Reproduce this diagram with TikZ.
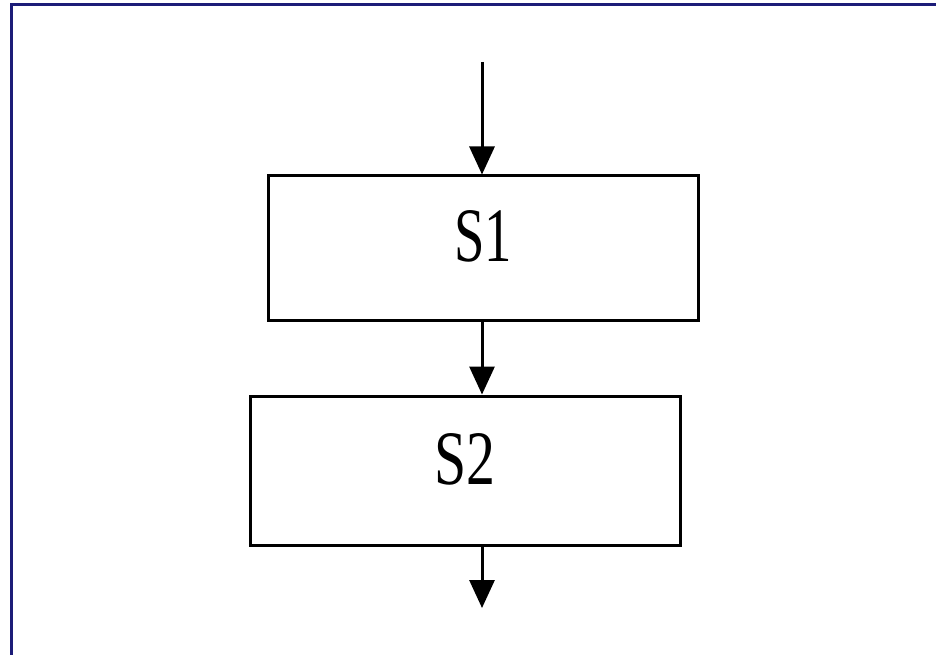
\documentclass[tikz,border=0pt]{standalone}
\usepackage{fontspec}
\setmainfont{Liberation Serif}
\usetikzlibrary{arrows.meta}
\definecolor{framenavy}{RGB}{28,28,120}
\begin{document}
\begin{tikzpicture}[x=1pt,y=-1pt,
  stepbox/.style={draw=black,line width=3pt,minimum width=430pt,inner sep=0pt,fill=white,
    text height=80pt,text depth=53pt,
    font=\fontsize{77}{77}\selectfont},
  flow/.style={draw=black,line width=3pt,-{Triangle[width=25pt,length=28pt]}}]
\useasboundingbox (0,0) rectangle (936,655);
\fill[white] (0,0) rectangle (936,655);
\draw[framenavy,line width=3pt] (11.5,655) -- (11.5,5) -- (936,5);
\node[stepbox,minimum height=144pt] (s1) at (483,248) {\scalebox{0.71}[1]{S1}};
\node[stepbox,minimum height=149pt] (s2) at (465,470.5) {\scalebox{0.75}[1]{S2}};
\coordinate (in) at (482,62);
\coordinate (out) at (482,608);
\draw[flow] (in) -- (in |- s1.north);
\draw[flow] (in |- s1.south) -- (in |- s2.north);
\draw[flow] (in |- s2.south) -- (out);
\end{tikzpicture}
\end{document}
